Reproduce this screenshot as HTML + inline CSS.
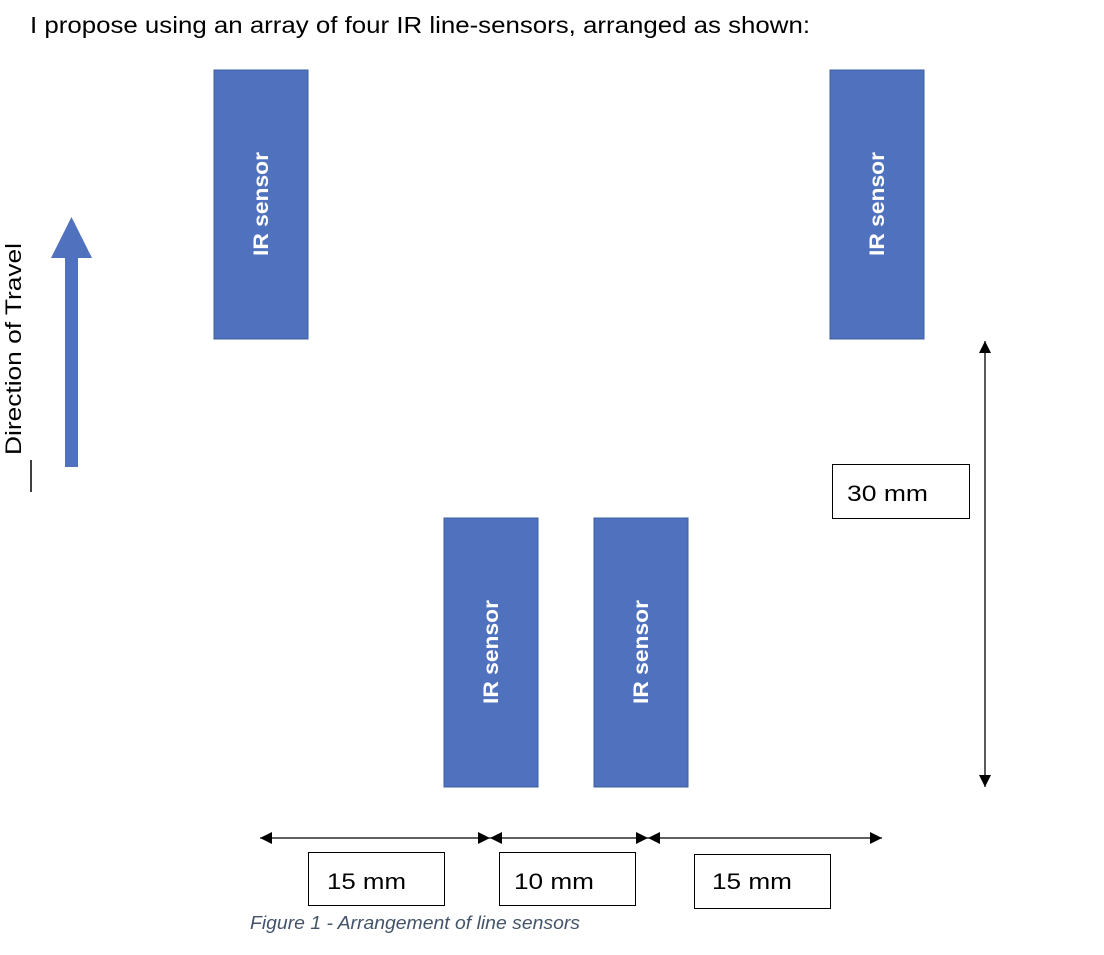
<!DOCTYPE html>
<html><head><meta charset="utf-8"><style>
body{margin:0;background:#fff;width:1104px;height:950px;overflow:hidden}
svg text{font-family:"Liberation Sans",sans-serif}
</style></head><body>
<svg width="1104" height="950" viewBox="0 0 1104 950" xmlns="http://www.w3.org/2000/svg">
<defs>
<marker id="a" viewBox="0 0 10 10" refX="10" refY="5" markerWidth="12" markerHeight="12" markerUnits="userSpaceOnUse" orient="auto-start-reverse"><path d="M0,0L10,5L0,10z" fill="#000"/></marker>
</defs>
<text x="30" y="33" font-size="23" fill="#000" textLength="780" lengthAdjust="spacingAndGlyphs">I propose using an array of four IR line-sensors, arranged as shown:</text>
<rect x="65" y="256" width="13" height="211" fill="#4F71BE"/>
<polygon points="51,258 92,258 71.5,217" fill="#4F71BE"/>
<text transform="translate(21,349) rotate(-90)" text-anchor="middle" font-size="22" fill="#000" textLength="212" lengthAdjust="spacingAndGlyphs">Direction of Travel</text>
<line x1="31" y1="460" x2="31" y2="492" stroke="#000" stroke-width="1.5"/>
<g fill="#4F71BE" stroke="#3D5E9E" stroke-width="1">
<rect x="214" y="70" width="94" height="269"/>
<rect x="830" y="70" width="94" height="269"/>
<rect x="444" y="518" width="94" height="269"/>
<rect x="594" y="518" width="94" height="269"/>
</g>
<g fill="#fff" font-size="21" font-weight="bold" text-anchor="middle">
<text transform="translate(268,204) rotate(-90)" textLength="104" lengthAdjust="spacingAndGlyphs">IR sensor</text>
<text transform="translate(884,204) rotate(-90)" textLength="104" lengthAdjust="spacingAndGlyphs">IR sensor</text>
<text transform="translate(498,652) rotate(-90)" textLength="104" lengthAdjust="spacingAndGlyphs">IR sensor</text>
<text transform="translate(648,652) rotate(-90)" textLength="104" lengthAdjust="spacingAndGlyphs">IR sensor</text>
</g>
<g stroke="#000" stroke-width="1.3">
<line x1="985" y1="341" x2="985" y2="787" marker-start="url(#a)" marker-end="url(#a)"/>
<line x1="260" y1="838" x2="490" y2="838" marker-start="url(#a)" marker-end="url(#a)"/>
<line x1="490" y1="838" x2="648" y2="838" marker-start="url(#a)" marker-end="url(#a)"/>
<line x1="648" y1="838" x2="882" y2="838" marker-start="url(#a)" marker-end="url(#a)"/>
</g>
<g fill="#fff" stroke="#000" stroke-width="1">
<rect x="832.5" y="464.5" width="137" height="54"/>
<rect x="308.5" y="852.5" width="136" height="53"/>
<rect x="499.5" y="852.5" width="136" height="53"/>
<rect x="694.5" y="854.5" width="136" height="54"/>
</g>
<g font-size="22" fill="#000">
<text x="847" y="501" textLength="81" lengthAdjust="spacingAndGlyphs">30 mm</text>
<text x="327" y="889" textLength="79" lengthAdjust="spacingAndGlyphs">15 mm</text>
<text x="514" y="889" textLength="80" lengthAdjust="spacingAndGlyphs">10 mm</text>
<text x="712" y="889" textLength="80" lengthAdjust="spacingAndGlyphs">15 mm</text>
</g>
<text x="250" y="929" font-size="18" font-style="italic" fill="#44546A" textLength="330" lengthAdjust="spacingAndGlyphs">Figure 1 - Arrangement of line sensors</text>
</svg>
</body></html>
